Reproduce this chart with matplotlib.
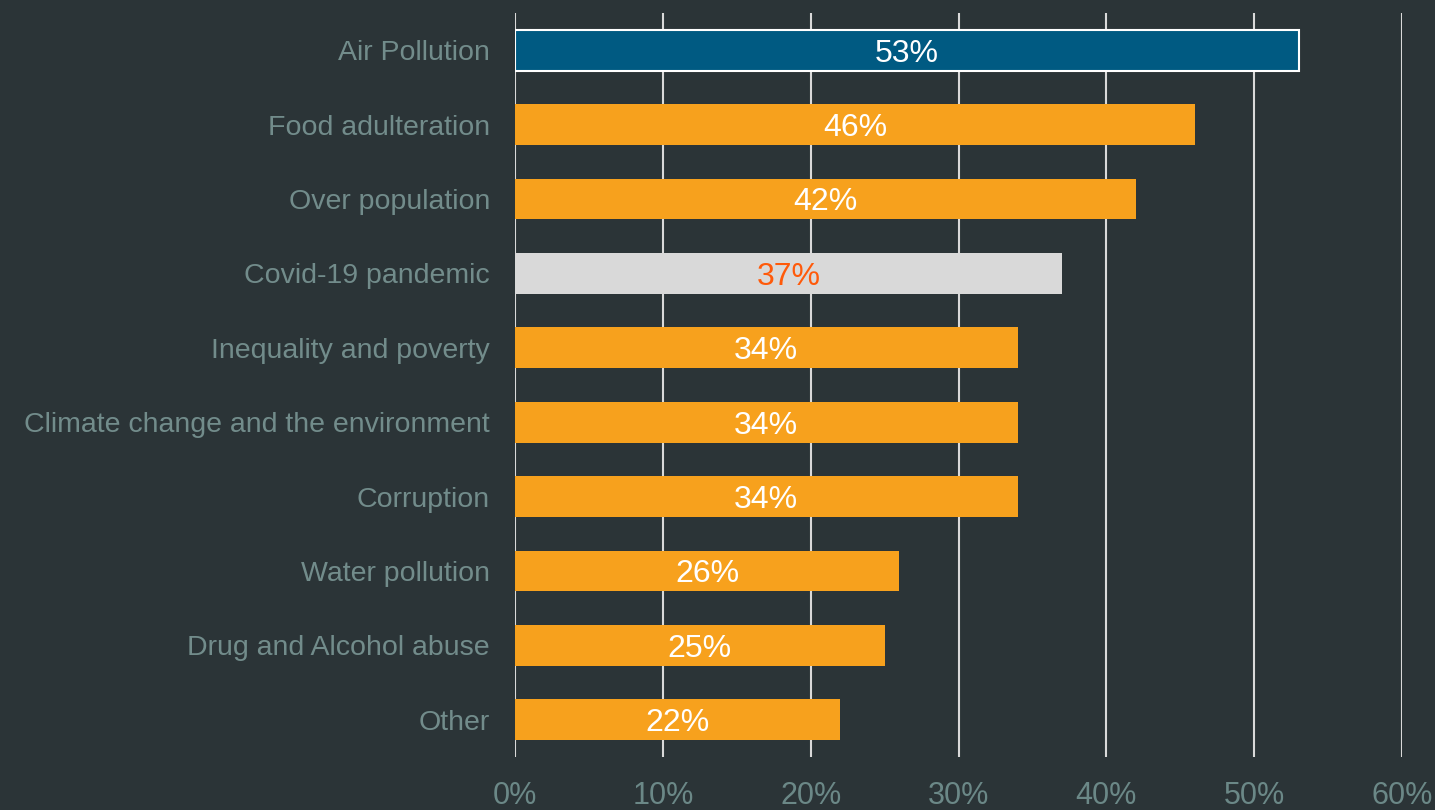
import matplotlib
matplotlib.use("Agg")
import matplotlib.pyplot as plt

categories = ["Air Pollution", "Food adulteration", "Over population", "Covid-19 pandemic",
              "Inequality and poverty", "Climate change and the environment", "Corruption",
              "Water pollution", "Drug and Alcohol abuse", "Other"]
values = [53, 46, 42, 37, 34, 34, 34, 26, 25, 22]
bar_colors = ["#005A82", "#F7A11D", "#F7A11D", "#D9D9D9", "#F7A11D", "#F7A11D",
              "#F7A11D", "#F7A11D", "#F7A11D", "#F7A11D"]
label_colors = ["white", "white", "white", "#FF5A0A", "white", "white",
                "white", "white", "white", "white"]
xticks = [0, 10, 20, 30, 40, 50, 60]
xtick_labels = ["0%", "10%", "20%", "30%", "40%", "50%", "60%"]

plt.rcParams['font.family'] = ['Liberation Sans', 'DejaVu Sans']
bg = "#2B3437"
fig = plt.figure(figsize=(14.35, 8.10), dpi=100, facecolor=bg)
ax = fig.add_axes([515/1435, 1-757/810, (1402-515)/1435, (757-13)/810])
ax.set_facecolor(bg)

ypos = list(range(len(categories)))
for y, v, c in zip(ypos, values, bar_colors):
    ec = "white" if c == "#005A82" else c
    lw = 1.5 if c == "#005A82" else 0
    ax.barh(y, v, height=0.55, color=c, edgecolor=ec, linewidth=lw, zorder=3)
for y, v, tc in zip(ypos, values, label_colors):
    ax.text(v/2, y, f"{v}%", color=tc, fontsize=23, ha="center",
            va="center_baseline", zorder=4)

ax.set_ylim(len(categories)-0.5, -0.5)
ax.set_xlim(0, 60)
ax.set_xticks(xticks)
ax.set_xticklabels(xtick_labels, fontsize=22, color="#6B8887")
ax.set_yticks(ypos)
ax.set_yticklabels(categories, fontsize=20.5, color="#728C8B")
ax.tick_params(axis="both", length=0)
ax.tick_params(axis="x", pad=17)
ax.tick_params(axis="y", pad=18)
ax.xaxis.grid(True, color="#D9D9D9", linewidth=1.5, zorder=0)
ax.set_axisbelow(True)
for s in ax.spines.values():
    s.set_visible(False)

fig.savefig("out.png", dpi=100, facecolor=bg)
